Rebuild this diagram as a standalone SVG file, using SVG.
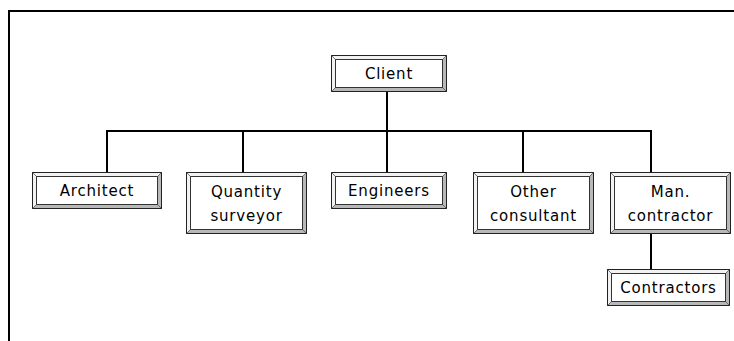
<svg xmlns="http://www.w3.org/2000/svg" width="734" height="341" viewBox="0 0 734 341">
  <defs>
    <style>
      .frame { fill: none; stroke: #000; stroke-width: 2; }
      .wire { fill: none; stroke: #000; stroke-width: 2; }
      .edge { fill: none; stroke: #222; stroke-width: 1; }
      .lite { fill: #f2f2f2; }
      .dark { fill: #b8b8b8; }
      .inner { fill: #fff; stroke: #333; stroke-width: 1; }
      .bevel { stroke: #555; stroke-width: 0.8; }
      .label { font-family: "DejaVu Sans", Verdana, sans-serif; font-size: 15px; letter-spacing: 0.8px; fill: #000; text-anchor: middle; }
    </style>
  </defs>

  <!-- page border -->
  <path class="frame" d="M9,341 V11 H734"/>

  <!-- connectors -->
  <g id="connectors">
    <path class="wire" d="M387,91 V131"/>
    <path class="wire" d="M107,172 V131 H651 V172"/>
    <path class="wire" d="M243,131 V172"/>
    <path class="wire" d="M387,131 V172"/>
    <path class="wire" d="M523,131 V172"/>
    <path class="wire" d="M651,233 V269"/>
  </g>

  <!-- framed boxes: bevelled band 4px wide around a white panel -->
  <g id="client" transform="translate(331.5,55.5)">
    <polygon class="lite" points="0,0 115,0 111,4 4,4 4,32 0,36"/>
    <polygon class="dark" points="115,0 115,36 0,36 4,32 111,32 111,4"/>
    <rect class="edge" width="115" height="36"/>
    <rect class="inner" x="4" y="4" width="107" height="28"/>
    <path class="bevel" d="M0,0 L4,4 M115,0 L111,4 M0,36 L4,32 M115,36 L111,32"/>
    <text class="label" x="57.5" y="23.5">Client</text>
  </g>

  <g id="architect" transform="translate(32.5,172.5)">
    <polygon class="lite" points="0,0 129,0 125,4 4,4 4,32 0,36"/>
    <polygon class="dark" points="129,0 129,36 0,36 4,32 125,32 125,4"/>
    <rect class="edge" width="129" height="36"/>
    <rect class="inner" x="4" y="4" width="121" height="28"/>
    <path class="bevel" d="M0,0 L4,4 M129,0 L125,4 M0,36 L4,32 M129,36 L125,32"/>
    <text class="label" x="64.5" y="23">Architect</text>
  </g>

  <g id="quantity-surveyor" transform="translate(186.5,172.5)">
    <polygon class="lite" points="0,0 120,0 116,4 4,4 4,57 0,61"/>
    <polygon class="dark" points="120,0 120,61 0,61 4,57 116,57 116,4"/>
    <rect class="edge" width="120" height="61"/>
    <rect class="inner" x="4" y="4" width="112" height="53"/>
    <path class="bevel" d="M0,0 L4,4 M120,0 L116,4 M0,61 L4,57 M120,61 L116,57"/>
    <text class="label" x="60" y="24.5">Quantity</text>
    <text class="label" x="60" y="48.5">surveyor</text>
  </g>

  <g id="engineers" transform="translate(331.5,172.5)">
    <polygon class="lite" points="0,0 115,0 111,4 4,4 4,32 0,36"/>
    <polygon class="dark" points="115,0 115,36 0,36 4,32 111,32 111,4"/>
    <rect class="edge" width="115" height="36"/>
    <rect class="inner" x="4" y="4" width="107" height="28"/>
    <path class="bevel" d="M0,0 L4,4 M115,0 L111,4 M0,36 L4,32 M115,36 L111,32"/>
    <text class="label" x="57.5" y="23.5">Engineers</text>
  </g>

  <g id="other-consultant" transform="translate(473.5,172.5)">
    <polygon class="lite" points="0,0 120,0 116,4 4,4 4,57 0,61"/>
    <polygon class="dark" points="120,0 120,61 0,61 4,57 116,57 116,4"/>
    <rect class="edge" width="120" height="61"/>
    <rect class="inner" x="4" y="4" width="112" height="53"/>
    <path class="bevel" d="M0,0 L4,4 M120,0 L116,4 M0,61 L4,57 M120,61 L116,57"/>
    <text class="label" x="60" y="24.5">Other</text>
    <text class="label" x="60" y="48.5">consultant</text>
  </g>

  <g id="man-contractor" transform="translate(610.5,172.5)">
    <polygon class="lite" points="0,0 120,0 116,4 4,4 4,57 0,61"/>
    <polygon class="dark" points="120,0 120,61 0,61 4,57 116,57 116,4"/>
    <rect class="edge" width="120" height="61"/>
    <rect class="inner" x="4" y="4" width="112" height="53"/>
    <path class="bevel" d="M0,0 L4,4 M120,0 L116,4 M0,61 L4,57 M120,61 L116,57"/>
    <text class="label" x="60" y="24.5">Man.</text>
    <text class="label" x="60" y="48.5">contractor</text>
  </g>

  <g id="contractors" transform="translate(607.5,269.5)">
    <polygon class="lite" points="0,0 122,0 118,4 4,4 4,32 0,36"/>
    <polygon class="dark" points="122,0 122,36 0,36 4,32 118,32 118,4"/>
    <rect class="edge" width="122" height="36"/>
    <rect class="inner" x="4" y="4" width="114" height="28"/>
    <path class="bevel" d="M0,0 L4,4 M122,0 L118,4 M0,36 L4,32 M122,36 L118,32"/>
    <text class="label" x="61" y="23.5">Contractors</text>
  </g>
</svg>
